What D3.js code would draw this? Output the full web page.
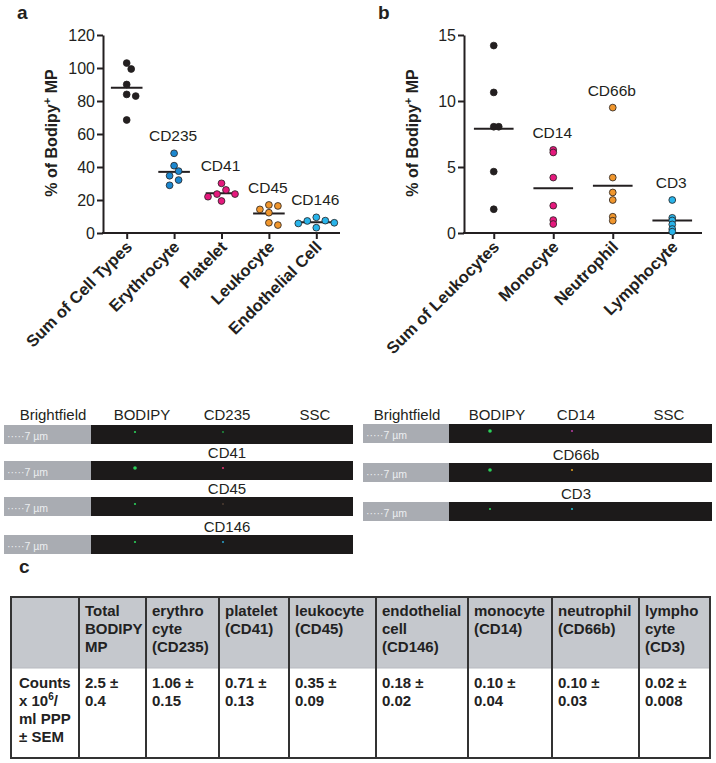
<!DOCTYPE html>
<html>
<head>
<meta charset="utf-8">
<script src="https://cdn.jsdelivr.net/npm/d3@7"></script>
<style>
  body { margin: 0; background: #fff; }
  svg { display: block; font-family: "Liberation Sans", Arial, Helvetica, sans-serif; }
</style>
</head>
<body>
<svg id="fig" width="716" height="763"></svg>
<script>
// panel a
const catsA = ['Sum of Cell Types', 'Erythrocyte', 'Platelet', 'Leukocyte', 'Endothelial Cell'];
const markersA = ['', 'CD235', 'CD41', 'CD45', 'CD146'];
const valuesA = [
  [103, 99.4, 90, 84, 83, 68.5],
  [48.3, 40.8, 37.5, 34.7, 32.1, 28.9],
  [30.1, 26.1, 23.6, 23.6, 22, 19.4],
  [17, 16.4, 14.3, 12.3, 6.2, 4.8],
  [9.5, 7.5, 7.3, 6.2, 5.8, 3.2]
];
const ticksA = [0, 20, 40, 60, 80, 100, 120];

// panel b
const catsB = ['Sum of Leukocytes', 'Monocyte', 'Neutrophil', 'Lymphocyte'];
const markersB = ['', 'CD14', 'CD66b', 'CD3'];
const valuesB = [
  [14.2, 10.65, 8.05, 8.05, 4.65, 1.8],
  [6.3, 6.1, 4.2, 2.07, 0.98, 0.68],
  [9.5, 4.2, 3.07, 2.5, 1.23, 0.93],
  [2.5, 1.15, 0.95, 0.65, 0.3, 0.1]
];
const ticksB = [0, 5, 10, 15];

// image strips
const stripHeadL = ['Brightfield', 'BODIPY', 'CD235', 'SSC'];
const stripRowsL = ['CD235', 'CD41', 'CD45', 'CD146'];
const stripHeadR = ['Brightfield', 'BODIPY', 'CD14', 'SSC'];
const stripRowsR = ['CD14', 'CD66b', 'CD3'];

// table c
const tableHead = [
  [''],
  ['Total', 'BODIPY', 'MP'],
  ['erythro', 'cyte', '(CD235)'],
  ['platelet', '(CD41)'],
  ['leukocyte', '(CD45)'],
  ['endothelial', 'cell', '(CD146)'],
  ['monocyte', '(CD14)'],
  ['neutrophil', '(CD66b)'],
  ['lympho', 'cyte', '(CD3)']
];
const tableMean = ['2.5', '1.06', '0.71', '0.35', '0.18', '0.10', '0.10', '0.02'];
const tableSem = ['0.4', '0.15', '0.13', '0.09', '0.02', '0.04', '0.03', '0.008'];

const ink = '#231f20';
const colorsA = [ink, '#1b87cf', '#e5197d', '#f0962d', '#29b4ea'];
const colorsB = [ink, '#e5197d', '#f0962d', '#29b4ea'];
const stripDotL = ['#1f8a3c', '#d8336e', '#4a3a30', '#2a9cc4'];
const stripDotR = ['#b03a9c', '#d89a22', '#22b8cc'];

const svg = d3.select('#fig');
const R = 3.4;

function swarm(vals, y, cd, st) {
  const placed = [];
  vals.slice().sort((a, b) => b - a).forEach(v => {
    const py = y(v);
    for (let k = 0; k < 20; k++) {
      const dx = (k % 2 ? 1 : -1) * Math.ceil(k / 2) * st;
      const hit = placed.some(p => (p.dx - dx) ** 2 + (p.py - py) ** 2 < cd * cd);
      if (!hit) { placed.push({v, py, dx}); break; }
    }
  });
  return placed;
}

function drawPanel(cats, markers, values, colors, ticks, left, right, ymax, letter, cd, st) {
  const g = svg.append('g');
  const y = d3.scaleLinear().domain([0, ymax]).range([233, 35]);
  const x = d3.scalePoint().domain(cats).range([left, right]).padding(0.5);

  g.append('text').attr('x', left - 86).attr('y', 19)
    .attr('font-size', 19).attr('font-weight', 'bold').attr('fill', ink).text(letter);

  const ya = g.append('g').attr('transform', `translate(${left},0)`)
    .call(d3.axisLeft(y).tickValues(ticks).tickSize(6).tickSizeOuter(0).tickPadding(2));
  ya.selectAll('text').attr('font-size', 16).attr('fill', ink).attr('font-family', null);
  ya.selectAll('line,path').attr('stroke', ink).attr('stroke-width', 2);

  const xa = g.append('g').attr('transform', 'translate(0,233)')
    .call(d3.axisBottom(x).tickSize(6).tickSizeOuter(0));
  xa.select('path').attr('d', `M${left - 1},0H${right}`);
  xa.selectAll('line,path').attr('stroke', ink).attr('stroke-width', 2);
  xa.selectAll('text')
    .attr('font-size', 16.5).attr('font-weight', 'bold').attr('fill', ink).attr('font-family', null)
    .attr('text-anchor', 'end').attr('dy', null).attr('y', 0)
    .attr('transform', 'translate(6,15) rotate(-45)');

  const ylab = g.append('text')
    .attr('transform', `translate(${left - 46},133) rotate(-90)`)
    .attr('text-anchor', 'middle').attr('font-size', 16).attr('font-weight', 'bold').attr('fill', ink);
  ylab.append('tspan').text('% of Bodipy');
  ylab.append('tspan').attr('font-size', 11).attr('dy', -6).text('+');
  ylab.append('tspan').attr('dy', 6).text(' MP');

  const step = x.step();
  cats.forEach((c, i) => {
    const cx = x(c);
    const pts = swarm(values[i], y, cd, st);
    g.append('line')
      .attr('x1', cx - step / 3).attr('x2', cx + step / 3)
      .attr('y1', y(d3.mean(values[i]))).attr('y2', y(d3.mean(values[i])))
      .attr('stroke', ink).attr('stroke-width', 2);
    g.selectAll(null).data(pts).enter().append('circle')
      .attr('cx', d => cx + d.dx).attr('cy', d => d.py).attr('r', R)
      .attr('fill', colors[i]).attr('stroke', ink).attr('stroke-width', 0.8);
    if (markers[i]) {
      g.append('text').attr('x', cx - 1).attr('y', y(d3.max(values[i])) - 12)
        .attr('text-anchor', 'middle').attr('font-size', 15.5).attr('fill', ink).text(markers[i]);
    }
  });
}

drawPanel(catsA, markersA, valuesA, colorsA, ticksA, 103, 340, 120, 'a', 7, 4.5);
drawPanel(catsB, markersB, valuesB, colorsB, ticksB, 464, 702, 15, 'b', 2, 5);

function drawStrips(heads, rows, dots, x0, xg, x1, headX, tops) {
  const g = svg.append('g');
  heads.forEach((h, i) => {
    g.append('text').attr('x', headX[i]).attr('y', 420).attr('text-anchor', 'middle')
      .attr('font-size', 15).attr('fill', ink).text(h);
  });
  const bx = headX[1] - 7, mx = headX[2] - 4;
  rows.forEach((r, i) => {
    const t = tops[i];
    if (i > 0) {
      g.append('text').attr('x', headX[2]).attr('y', t - 3).attr('text-anchor', 'middle')
        .attr('font-size', 15).attr('fill', ink).text(r);
    }
    g.append('rect').attr('x', x0).attr('y', t).attr('width', xg - x0).attr('height', 19).attr('fill', '#a9acb2');
    g.append('rect').attr('x', xg).attr('y', t).attr('width', x1 - xg).attr('height', 19).attr('fill', '#1c1a1a');
    g.append('text').attr('x', x0 + 3).attr('y', t + 15).attr('font-size', 10.5).attr('fill', '#eceef0')
      .text('\u00b7\u00b7\u00b7\u00b7\u00b77 \u00b5m');
    g.append('circle').attr('cx', bx).attr('cy', t + 7).attr('r', i === 1 || (x0 > 300 && i === 0) ? 1.8 : 1.1).attr('fill', '#2bd05a');
    g.append('circle').attr('cx', mx).attr('cy', t + 7).attr('r', 1.1).attr('fill', dots[i]);
  });
}

drawStrips(stripHeadL, stripRowsL, stripDotL, 4, 91, 353, [53, 142, 227, 315], [425, 461, 497, 535]);
drawStrips(stripHeadR, stripRowsR, stripDotR, 363, 449, 712, [407, 497, 576, 669], [424, 463, 502]);

// table c
(function drawTable() {
  const g = svg.append('g');
  const edges = [11, 79, 146, 219, 289, 376, 468, 552, 639, 710];
  const top = 597, mid = 668, bot = 758;
  g.append('text').attr('x', 19).attr('y', 573).attr('font-size', 19).attr('font-weight', 'bold').attr('fill', ink).text('c');
  g.append('rect').attr('x', edges[0]).attr('y', top).attr('width', edges[9] - edges[0]).attr('height', mid - top).attr('fill', '#c5c8cd');
  g.append('line').attr('x1', edges[0]).attr('x2', edges[9]).attr('y1', mid).attr('y2', mid).attr('stroke', '#b8bbc0').attr('stroke-width', 1);
  edges.slice(1, 9).forEach(e => {
    g.append('line').attr('x1', e).attr('x2', e).attr('y1', top).attr('y2', bot).attr('stroke', '#333').attr('stroke-width', 2);
  });
  g.append('rect').attr('x', edges[0]).attr('y', top).attr('width', edges[9] - edges[0]).attr('height', bot - top)
    .attr('fill', 'none').attr('stroke', '#333').attr('stroke-width', 2);

  const txt = (x, yy, s) => g.append('text').attr('x', x).attr('y', yy)
    .attr('font-size', 15).attr('font-weight', 'bold').attr('fill', '#222').text(s);
  tableHead.forEach((lines, c) => {
    lines.forEach((s, k) => { if (s) txt(edges[c] + 6, top + 19 + k * 18, s); });
  });
  txt(edges[0] + 8, mid + 20, 'Counts');
  const sup = txt(edges[0] + 8, mid + 38, 'x 10');
  sup.append('tspan').attr('font-size', 10).attr('dy', -6).text('6');
  sup.append('tspan').attr('dy', 6).text('/');
  txt(edges[0] + 8, mid + 56, 'ml PPP');
  txt(edges[0] + 8, mid + 74, '\u00b1 SEM');
  tableMean.forEach((m, i) => {
    txt(edges[i + 1] + 6, mid + 20, m + ' \u00b1');
    txt(edges[i + 1] + 6, mid + 38, tableSem[i]);
  });
})();
</script>
</body>
</html>
